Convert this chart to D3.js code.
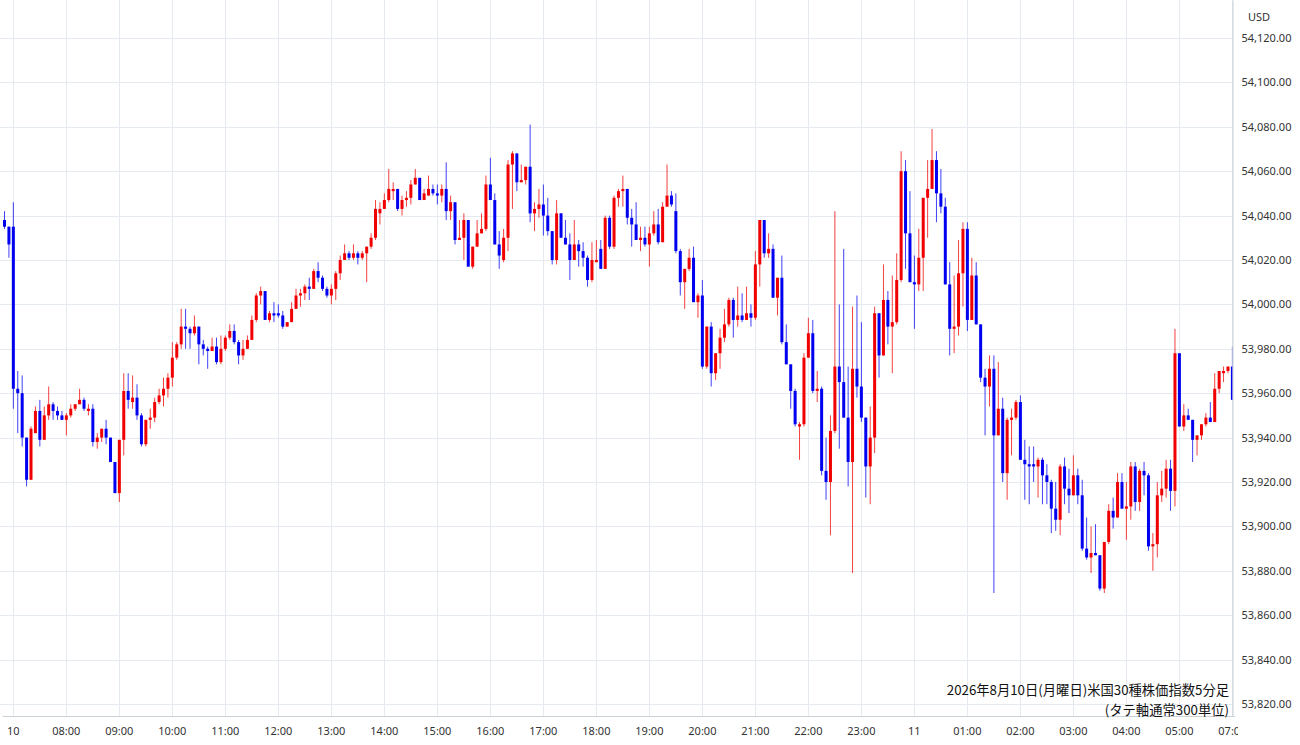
<!DOCTYPE html>
<html><head><meta charset="utf-8">
<script src="https://cdn.jsdelivr.net/npm/d3@7"></script>
<style>
html,body{margin:0;padding:0;background:#fff;}
svg{display:block;}
</style></head><body>
<svg id="chart" width="1300" height="745"></svg>
<script>
// ---- data (5-minute candles, US30 index CFD) ----
const prevSessionTimes = ["8/8 05:50", "8/8 05:55"];
const nextSessionTimes = ["8/11 07:00"];

const opens = [
  54038,54035,
  54035,53962,53960,53940,53921,53942,53952,53939,53950,53955,53952,53950,
  53948,53950,53953,53955,53957,53952,53953,53938,53940,53944,53940,53929,
  53915,53939,53961,53956,53958,53950,53937,53948,53949,53956,53959,53962,
  53967,53976,53982,53990,53989,53987,53990,53982,53980,53979,53981,53974,
  53980,53985,53988,53983,53977,53980,53984,53993,54004,54006,53993,53996,
  53996,53995,53990,53992,53998,54004,54005,54008,54007,54015,54012,54007,
  54004,54007,54014,54020,54023,54021,54023,54021,54023,54026,54030,54041,
  54043,54047,54051,54052,54043,54047,54048,54054,54057,54047,54049,54052,
  54050,54049,54052,54042,54046,54029,54030,54038,54017,54026,54032,54034,
  54054,54047,54027,54020,54030,54063,54068,54055,54056,54062,54041,54043,
  54045,54040,54033,54020,54041,54030,54027,54020,54027,54024,54021,54011,
  54019,54025,54016,54039,54026,54048,54051,54052,54039,54036,54029,54030,
  54027,54032,54036,54028,54044,54049,54042,54024,54010,54016,54021,54001,
  54004,53972,53990,53969,53978,53985,53991,54002,53993,53995,53993,53996,
  53994,54018,54038,54023,54025,54003,54012,53983,53973,53961,53945,53946,
  53976,53987,53961,53962,53925,53920,53943,53972,53965,53949,53929,53971,
  53963,53949,53927,53940,53996,53977,54002,53990,53992,54011,54060,54032,
  54010,54009,54021,54048,54052,54065,54050,54044,54009,53989,53990,54014,
  54034,53993,54013,53991,53967,53963,53971,53941,53953,53924,53948,53949,
  53956,53930,53928,53928,53927,53930,53923,53920,53908,53903,53927,53917,
  53914,53923,53914,53890,53886,53888,53887,53872,53893,53907,53904,53920,
  53908,53909,53927,53911,53925,53923,53891,53892,53914,53917,53926,53916,
  53978,53945,53950,53948,53939,53941,53946,53949,53947,53962,53969,53970,
  53972
];
const highs = [
  54042,54035,
  54046,53970,53968,53940,53945,53954,53957,53954,53963,53956,53954,53952,
  53951,53955,53955,53962,53958,53955,53955,53942,53944,53948,53940,53929,
  53939,53969,53969,53968,53964,53951,53948,53953,53958,53962,53967,53969,
  53983,53983,53998,53998,53990,53995,53990,53984,53981,53985,53985,53986,
  53986,53991,53991,53984,53984,53986,53995,54005,54008,54006,53997,54001,
  54000,53997,53992,54001,54007,54007,54009,54012,54016,54019,54013,54008,
  54009,54015,54022,54027,54024,54027,54024,54024,54026,54032,54047,54046,
  54050,54061,54055,54052,54049,54051,54056,54061,54057,54052,54058,54054,
  54054,54054,54064,54049,54046,54038,54041,54038,54026,54038,54041,54058,
  54066,54050,54033,54034,54065,54069,54068,54063,54062,54081,54046,54052,
  54054,54048,54033,54047,54041,54038,54032,54038,54029,54028,54022,54028,
  54029,54029,54040,54040,54049,54052,54058,54052,54043,54046,54035,54035,
  54035,54042,54043,54046,54063,54051,54050,54025,54016,54025,54026,54005,
  54011,53990,53992,53978,53989,53998,54003,54003,54008,54005,54008,54000,
  54024,54038,54038,54032,54027,54012,54022,53991,53973,53962,53947,53978,
  53994,53993,53970,53963,53940,53950,54042,54000,54025,53972,53999,54004,
  53992,53949,53954,53999,53996,54018,54006,54013,54023,54069,54065,54051,
  54022,54034,54048,54065,54079,54069,54061,54048,54019,54013,54029,54037,
  54037,54021,54019,53991,53971,53977,53977,53974,53958,53949,53953,53957,
  53959,53939,53936,53936,53931,53931,53928,53921,53920,53928,53931,53926,
  53932,53926,53921,53904,53900,53901,53887,53893,53910,53913,53924,53924,
  53920,53929,53929,53926,53929,53924,53897,53920,53925,53930,53930,53989,
  53978,53955,53953,53948,53941,53946,53951,53956,53969,53970,53972,53972,
  53981
];
const lows = [
  54034,54021,
  53953,53942,53936,53918,53921,53942,53936,53939,53948,53948,53948,53948,
  53941,53949,53952,53955,53952,53950,53936,53935,53938,53937,53929,53915,
  53911,53932,53953,53953,53948,53936,53936,53944,53947,53955,53954,53958,
  53963,53975,53980,53980,53980,53986,53973,53977,53971,53979,53973,53973,
  53979,53984,53982,53973,53975,53980,53984,53992,54000,53993,53992,53992,
  53994,53989,53990,53992,53998,53999,54002,54002,54007,54010,54006,54003,
  54000,54002,54011,54020,54020,54020,54018,54020,54010,54025,54029,54036,
  54043,54046,54047,54042,54040,54044,54045,54054,54047,54047,54049,54049,
  54045,54046,54038,54038,54027,54029,54020,54017,54016,54026,54032,54033,
  54047,54027,54016,54019,54024,54043,54051,54055,54054,54037,54033,54039,
  54031,54031,54018,54018,54030,54027,54011,54020,54017,54017,54008,54010,
  54019,54016,54016,54025,54025,54044,54044,54036,54026,54029,54024,54026,
  54017,54031,54027,54028,54044,54044,54023,54004,53998,54015,54001,53994,
  53971,53971,53963,53966,53971,53983,53990,53985,53990,53992,53993,53990,
  53993,54008,54021,54021,54003,53995,53982,53973,53953,53945,53930,53945,
  53976,53960,53956,53923,53912,53896,53942,53935,53949,53918,53879,53958,
  53947,53913,53910,53933,53967,53977,53982,53969,53991,54010,54016,54010,
  53989,54006,54006,54030,54052,54037,54041,54009,53977,53978,53986,53999,
  53988,53993,53991,53965,53941,53954,53870,53941,53920,53912,53932,53948,
  53930,53912,53910,53920,53913,53910,53910,53897,53898,53896,53910,53906,
  53914,53910,53889,53885,53879,53887,53871,53870,53892,53899,53904,53908,
  53894,53903,53907,53907,53914,53889,53880,53886,53911,53913,53907,53909,
  53945,53943,53948,53929,53932,53939,53945,53947,53947,53960,53965,53969,
  53957
];
const closes = [
  54035,54027,
  53962,53960,53940,53921,53944,53952,53939,53950,53955,53952,53950,53948,
  53950,53953,53955,53957,53953,53953,53938,53940,53944,53940,53929,53915,
  53939,53961,53957,53958,53950,53937,53948,53949,53956,53959,53962,53967,
  53976,53982,53990,53989,53987,53990,53982,53980,53979,53981,53974,53980,
  53985,53988,53983,53977,53980,53984,53993,54004,54006,53993,53996,53995,
  53995,53990,53992,53998,54004,54005,54008,54007,54015,54012,54007,54004,
  54007,54014,54020,54023,54021,54023,54021,54023,54026,54030,54043,54043,
  54047,54052,54052,54043,54047,54048,54054,54057,54047,54050,54052,54050,
  54049,54052,54042,54046,54029,54030,54038,54017,54026,54032,54034,54054,
  54047,54027,54022,54030,54063,54068,54055,54056,54062,54041,54043,54045,
  54040,54033,54020,54041,54030,54027,54020,54027,54024,54021,54011,54020,
  54020,54016,54039,54026,54048,54051,54052,54039,54036,54029,54030,54027,
  54032,54036,54028,54044,54049,54045,54024,54010,54016,54021,54001,54004,
  53972,53990,53969,53978,53985,53991,54002,53993,53995,53993,53996,53994,
  54018,54038,54023,54025,54003,54012,53983,53973,53961,53946,53946,53976,
  53987,53961,53962,53925,53920,53943,53972,53965,53949,53929,53971,53963,
  53949,53927,53940,53996,53977,54002,53990,53992,54011,54060,54032,54010,
  54009,54021,54048,54052,54065,54050,54044,54009,53989,53990,54014,54034,
  53993,54013,53991,53967,53963,53971,53941,53953,53924,53948,53949,53956,
  53930,53928,53927,53927,53930,53923,53920,53908,53903,53927,53917,53914,
  53923,53914,53890,53886,53888,53887,53872,53893,53907,53904,53920,53908,
  53909,53927,53911,53925,53923,53891,53892,53914,53917,53926,53916,53978,
  53945,53950,53948,53939,53941,53946,53949,53947,53962,53970,53970,53972,
  53957
];

const tickTimes = ["8/10 07:00","8/10 08:00","8/10 09:00","8/10 10:00","8/10 11:00","8/10 12:00",
  "8/10 13:00","8/10 14:00","8/10 15:00","8/10 16:00","8/10 17:00","8/10 18:00","8/10 19:00",
  "8/10 20:00","8/10 21:00","8/10 22:00","8/10 23:00","8/11 00:00","8/11 01:00","8/11 02:00",
  "8/11 03:00","8/11 04:00","8/11 05:00","8/11 07:00"];
const tickLabels = ["10","08:00","09:00","10:00","11:00","12:00","13:00","14:00","15:00","16:00",
  "17:00","18:00","19:00","20:00","21:00","22:00","23:00","11","01:00","02:00","03:00","04:00",
  "05:00","07:00"];
const priceTicks = [53820,53840,53860,53880,53900,53920,53940,53960,53980,54000,54020,54040,54060,54080,54100,54120];
const currencyLabel = "USD";
const captionLines = ["2026年8月10日(月曜日)米国30種株価指数5分足", "(タテ軸通常300単位)"];

// ---- categories (5-minute slots of the session 8/10 07:00 - 8/11 05:55) ----
const pad = n => String(n).padStart(2, "0");
const categories = prevSessionTimes.slice();
for (let k = 0; k < 23 * 12; k++) {
  const mins = 7 * 60 + k * 5;
  const day = mins >= 24 * 60 ? 11 : 10;
  const m = mins % (24 * 60);
  categories.push(`8/${day} ${pad(Math.floor(m / 60))}:${pad(m % 60)}`);
}
nextSessionTimes.forEach(t => categories.push(t));

const candles = categories.map((t, i) => ({
  t, o: opens[i], h: highs[i], l: lows[i], c: closes[i]
}));

// ---- layout ----
const plotRight = 1232.5, plotBottom = 716;
const svg = d3.select("#chart");
const font = "'Noto Sans', 'Noto Sans CJK JP', sans-serif";

const x = d3.scaleBand().domain(categories).range([2.3, 1234.6]).padding(0);
const y = d3.scaleLinear().domain([53814.6, 54137.1]).range([plotBottom, 0]);
const cx = t => x(t) + x.bandwidth() / 2;

svg.append("rect").attr("width", 1300).attr("height", 745).attr("fill", "#fff");

const defs = svg.append("defs");
defs.append("clipPath").attr("id", "plotclip")
  .append("rect").attr("x", 0).attr("y", 0).attr("width", plotRight).attr("height", plotBottom);
defs.append("clipPath").attr("id", "xaxisclip")
  .append("rect").attr("x", -10).attr("y", 0).attr("width", 1248).attr("height", 40);

// gridlines
const grid = svg.append("g").attr("stroke", "#e4eaf0").attr("stroke-width", 1);
grid.selectAll("line.h").data(priceTicks).join("line")
  .attr("x1", 0).attr("x2", plotRight)
  .attr("y1", d => Math.round(y(d)) + 0.5).attr("y2", d => Math.round(y(d)) + 0.5);
grid.selectAll("line.v").data(tickTimes).join("line")
  .attr("y1", 0).attr("y2", plotBottom)
  .attr("x1", d => Math.round(cx(d)) + 0.5).attr("x2", d => Math.round(cx(d)) + 0.5);

// candles
const g = svg.append("g").attr("clip-path", "url(#plotclip)");
const colorOf = d => d.c >= d.o ? "#f00000" : "#0000f0";
g.selectAll("line.wick").data(candles).join("line")
  .attr("x1", d => cx(d.t)).attr("x2", d => cx(d.t))
  .attr("y1", d => y(d.h)).attr("y2", d => y(d.l))
  .attr("stroke", colorOf).attr("stroke-width", 1).attr("stroke-opacity", 0.75);
g.selectAll("rect.body").data(candles).join("rect")
  .attr("x", d => cx(d.t) - 1.5).attr("width", 3)
  .attr("y", d => y(Math.max(d.o, d.c)))
  .attr("height", d => Math.max(1, Math.abs(y(d.o) - y(d.c))))
  .attr("fill", colorOf);

// bottom axis (labels cut by the price panel at the right, as in the reference)
const xAxis = d3.axisBottom(x).tickValues(tickTimes).tickSize(0).tickPadding(11)
  .tickFormat((d, i) => tickLabels[i]);
const xa = svg.append("g").attr("transform", `translate(0,${plotBottom})`)
  .attr("clip-path", "url(#xaxisclip)").call(xAxis);
xa.select(".domain").attr("stroke", "#c9d0d6");
xa.selectAll("text").attr("font-family", font).attr("font-size", 11).attr("fill", "#333");

// right axis
const yAxis = d3.axisRight(y).tickValues(priceTicks).tickSize(0).tickPadding(9)
  .tickFormat(d => d3.format(",.2f")(d));
const ya = svg.append("g").attr("transform", `translate(${plotRight},0)`).call(yAxis);
ya.select(".domain").attr("stroke", "#c9d0d6");
ya.selectAll("text").attr("font-family", font).attr("font-size", 11).attr("fill", "#333");

svg.append("text").attr("x", 1248).attr("y", 21).text(currencyLabel)
  .attr("font-family", font).attr("font-size", 11).attr("fill", "#333");

// caption: two lines, spaced so their boxes do not collide
const cap = svg.append("g").attr("font-family", "'Noto Sans CJK JP', sans-serif")
  .attr("font-size", 13.3).attr("fill", "#111").attr("text-anchor", "end");
cap.selectAll("text").data(captionLines).join("text")
  .attr("x", 1229).attr("y", (d, i) => 695 + i * 19.5).text(d => d);
</script>
</body></html>
